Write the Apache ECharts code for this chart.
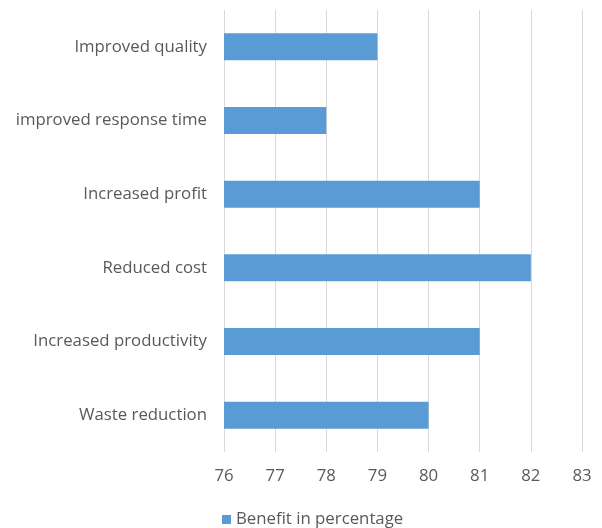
<!DOCTYPE html>
<html>
<head>
<meta charset="utf-8">
<script src="https://cdn.jsdelivr.net/npm/echarts@6/dist/echarts.min.js"></script>
<style>
  html, body { margin: 0; padding: 0; background: #fff; }
  #chart { width: 602px; height: 528px; }
</style>
</head>
<body>
<div id="chart"></div>
<script>
// Benefit categories, listed top to bottom
const categories = [
  'Improved quality',
  'improved response time',
  'Increased profit',
  'Reduced cost',
  'Increased productivity',
  'Waste reduction'
];
const benefitValues = [79, 78, 81, 82, 81, 80];
const seriesName = 'Benefit in percentage';
const axisMin = 76;
const axisMax = 83;

const textColor = '#595959';
const fontFamily = '"Open Sans", "Noto Sans", sans-serif';
const fontSize = 16.8;

const chart = echarts.init(document.getElementById('chart'), null, { renderer: 'canvas' });
chart.setOption({
  animation: false,
  backgroundColor: '#ffffff',
  textStyle: { fontFamily: fontFamily, color: textColor },
  grid: { left: 224, right: 20, top: 10, bottom: 76, containLabel: false },
  legend: {
    top: 511,
    left: 217,
    padding: [0, 5],
    itemWidth: 9,
    itemHeight: 9,
    icon: 'rect',
    itemGap: 6,
    textStyle: { color: textColor, fontSize: fontSize, fontFamily: fontFamily },
    data: [seriesName]
  },
  xAxis: {
    type: 'value',
    min: axisMin,
    max: axisMax,
    interval: 1,
    axisLine: { show: false },
    axisTick: { show: false },
    axisLabel: { color: textColor, fontSize: fontSize, margin: 16, fontFamily: fontFamily },
    splitLine: { show: true, lineStyle: { color: '#d9d9d9', width: 1 } }
  },
  yAxis: {
    type: 'category',
    inverse: true,
    data: categories,
    axisLine: { show: false },
    axisTick: { show: false },
    axisLabel: { color: textColor, fontSize: fontSize, margin: 17, fontFamily: fontFamily }
  },
  series: [{
    name: seriesName,
    type: 'bar',
    data: benefitValues,
    barWidth: 27,
    itemStyle: { color: '#5b9bd5' }
  }]
});
</script>
</body>
</html>
